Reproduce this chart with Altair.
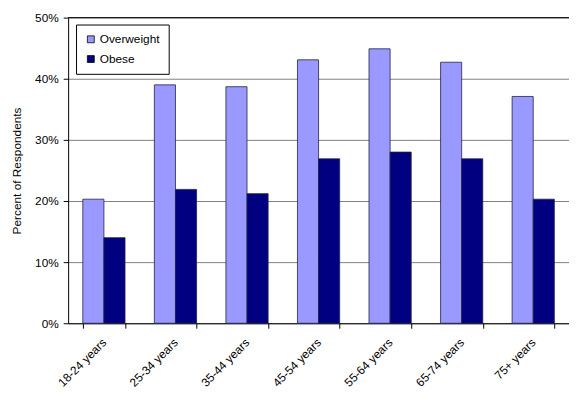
import altair as alt
import pandas as pd

ages = ["18-24 years", "25-34 years", "35-44 years", "45-54 years",
        "55-64 years", "65-74 years", "75+ years"]
overweight = [20.3, 39.0, 38.7, 43.1, 44.9, 42.7, 37.1]
obese = [14.0, 21.9, 21.2, 26.9, 28.0, 26.9, 20.3]
series = ["Overweight", "Obese"]
colors = ["#9999FF", "#000080"]
y_ticks = [0, 0.1, 0.2, 0.3, 0.4, 0.5]

rows = []
for a, ov, ob in zip(ages, overweight, obese):
    rows.append({"age": a, "series": "Overweight", "value": ov / 100})
    rows.append({"age": a, "series": "Obese", "value": ob / 100})
df = pd.DataFrame(rows)

FONT = "Liberation Sans"

bars = alt.Chart(df).mark_bar(stroke="#222244", strokeWidth=0.8).encode(
    x=alt.X("age:N", sort=ages,
            scale=alt.Scale(paddingInner=0.41, paddingOuter=0.205),
            axis=alt.Axis(title=None, labelAngle=-45, labelAlign="right",
                          labelBaseline="middle", labelPadding=12,
                          labelFontSize=12, tickBand="extent", tickSize=5,
                          labelFont=FONT, labelColor="#000", domainColor="#000",
                          tickColor="#000", grid=False)),
    xOffset=alt.XOffset("series:N", sort=series,
                        scale=alt.Scale(paddingInner=0, paddingOuter=0)),
    y=alt.Y("value:Q", scale=alt.Scale(domain=[0, 0.5], nice=False),
            axis=alt.Axis(title="Percent of Respondents", format=".0%",
                          values=y_ticks, tickSize=5, labelPadding=5,
                          labelFontSize=12, labelFont=FONT, labelColor="#000",
                          titleFont=FONT, titleFontSize=12, titleFontWeight="normal",
                          titleColor="#000", titlePadding=11,
                          grid=True, gridColor="#808080", gridWidth=1,
                          domainColor="#000", tickColor="#000")),
    color=alt.Color("series:N", sort=series,
                    scale=alt.Scale(domain=series, range=colors),
                    legend=alt.Legend(title=None, orient="none", legendX=8, legendY=7,
                                      symbolType="square", symbolSize=49,
                                      symbolStrokeColor="#000", symbolStrokeWidth=0.8,
                                      labelFont=FONT, labelFontSize=12, labelColor="#000",
                                      labelOffset=3, rowPadding=8, padding=9,
                                      strokeColor="#000", fillColor="#fff")),
)

top = alt.Chart(pd.DataFrame({"v": [0.5]})).mark_rule(color="#000", strokeWidth=1).encode(
    y="v:Q"
)

chart = alt.layer(bars, top).properties(
    width=508, height=310,
    autosize=alt.AutoSizeParams(type="none"),
    padding={"left": 61, "top": 7, "right": 0, "bottom": 70},
).configure_view(stroke=None)

chart.save("out.html", embed_options={"renderer": "svg", "actions": False})
